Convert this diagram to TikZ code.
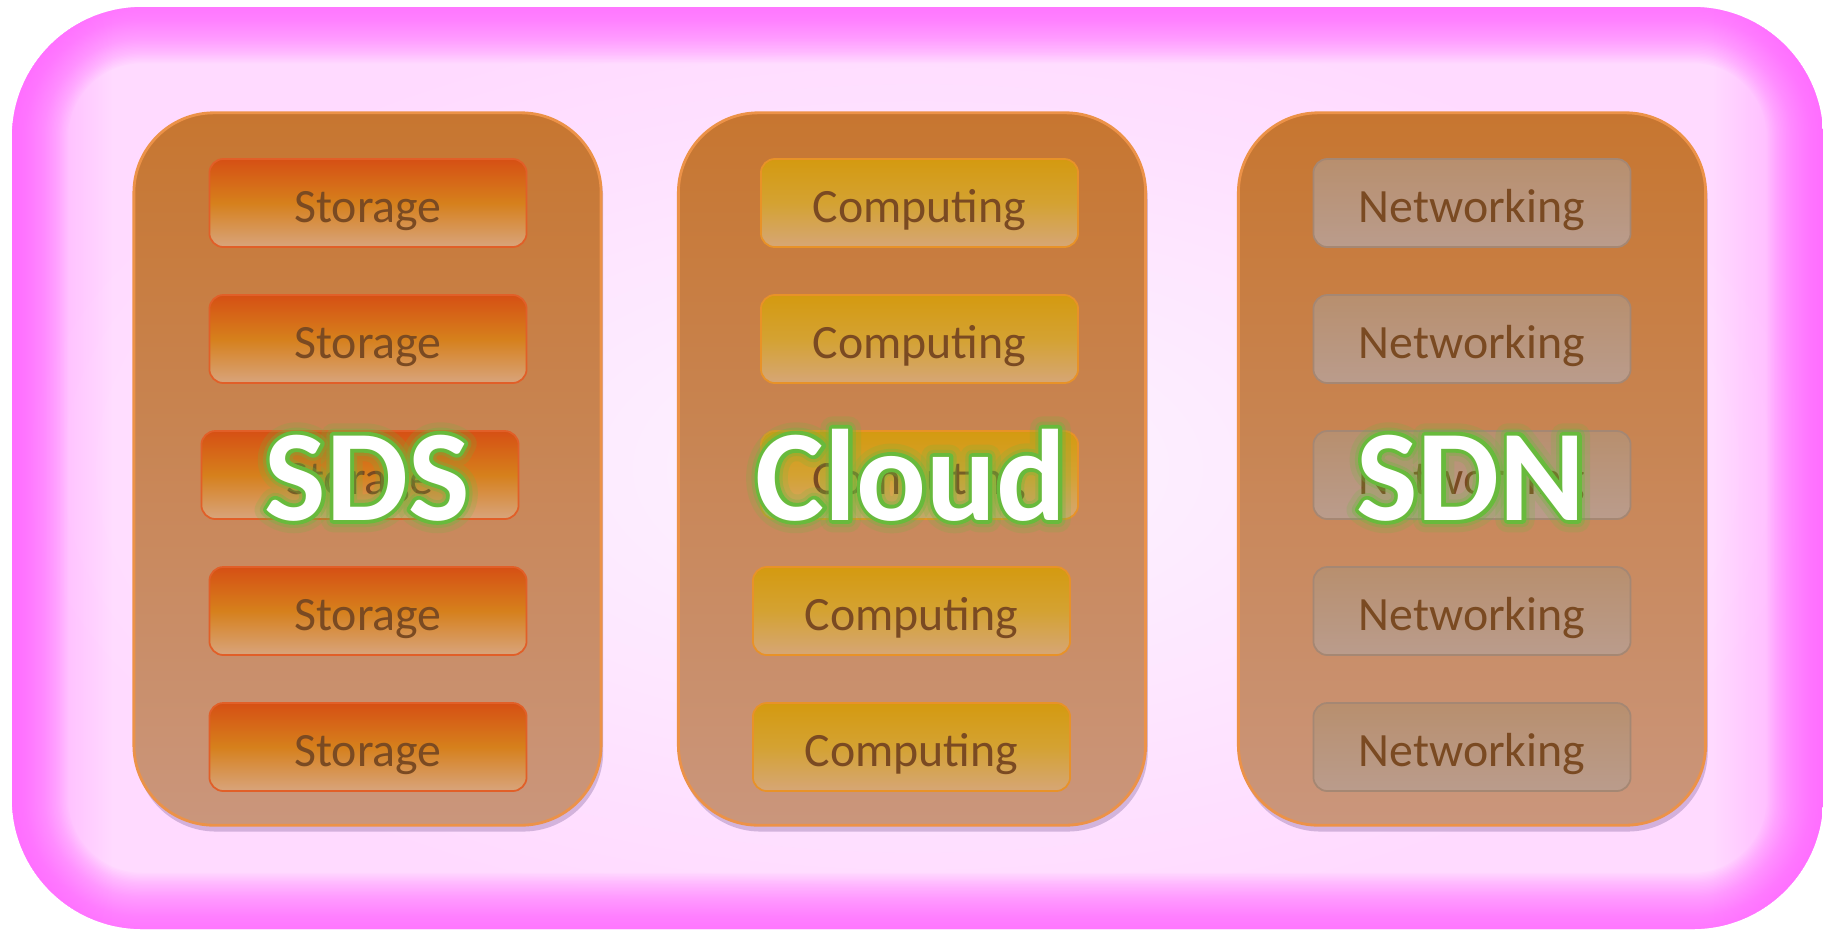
\documentclass[tikz,border=0pt]{standalone}
\usepackage{fontspec}
\setmainfont{Carlito}
\usepackage{tikz}
\usetikzlibrary{math}
\usetikzlibrary{shadows}
\usetikzlibrary{fadings}
\usetikzlibrary{positioning}

\definecolor{edgepink}{RGB}{255,100,255}
\definecolor{innerpink}{RGB}{255,218,255}
\definecolor{centrepink}{RGB}{252,245,255}
\definecolor{paneltop}{RGB}{199,118,48}
\definecolor{panelbottom}{RGB}{202,150,124}
\definecolor{paneledge}{RGB}{236,146,72}
\definecolor{shadowviolet}{RGB}{110,80,140}
\definecolor{storagetop}{RGB}{214,80,20}
\definecolor{storagemid}{RGB}{214,128,28}
\definecolor{storagebottom}{RGB}{216,164,124}
\definecolor{storageedge}{RGB}{225,95,40}
\definecolor{computetop}{RGB}{212,154,16}
\definecolor{computemid}{RGB}{212,162,50}
\definecolor{computebottom}{RGB}{214,166,118}
\definecolor{computeedge}{RGB}{232,146,40}
\definecolor{nettop}{RGB}{184,143,110}
\definecolor{netbottom}{RGB}{186,156,140}
\definecolor{netedge}{RGB}{165,135,115}
\definecolor{unittext}{RGB}{122,74,34}
\definecolor{glowgreen}{RGB}{104,186,60}

\tikzfading[name=fade right, left color=transparent!0, right color=transparent!100]
\tikzfading[name=fade left, left color=transparent!100, right color=transparent!0]

\def\bigfont{\fontsize{37}{44}\selectfont\bfseries}
\def\unitfont{\fontsize{13.6}{16}\selectfont}
% stroked text: line width in bp
\def\strokedtext#1#2{\special{pdf:literal direct 2 Tr #1 w 1 j}#2\special{pdf:literal direct 0 Tr}}

% white label with green rim and halo: name, x, y, text
\newcommand{\glowlabel}[4]{%
  \node[glowtext, opacity=0.18] (#1-halo) at (#2, #3) {\strokedtext{7}{#4}};
  \node[glowtext, opacity=0.30] (#1-glow) at (#2, #3) {\strokedtext{4}{#4}};
  \node[glowtext] (#1-rim) at (#2, #3) {\strokedtext{2.2}{#4}};
  \node[bigtext] (#1) at (#2, #3) {#4};
}

\begin{document}
\begin{tikzpicture}[x=0.01cm, y=-0.01cm,
  panel/.style={minimum width=4.67cm, minimum height=7.12cm, rounded corners=0.8cm,
    top color=paneltop, bottom color=panelbottom, draw=paneledge, line width=0.8pt,
    drop shadow={shadow xshift=0.6pt, shadow yshift=-1.8pt, opacity=0.3, fill=shadowviolet}},
  unitbox/.style={minimum width=3.17cm, minimum height=0.88cm, rounded corners=0.14cm,
    line width=0.5pt, font=\unitfont, text=unittext, text height=11pt, text depth=0pt},
  storagebox/.style={unitbox, top color=storagetop, bottom color=storagebottom,
    middle color=storagemid, draw=storageedge},
  computebox/.style={unitbox, top color=computetop, bottom color=computebottom,
    middle color=computemid, draw=computeedge},
  networkbox/.style={unitbox, top color=nettop, bottom color=netbottom, draw=netedge},
  glowtext/.style={anchor=base, font=\bigfont, text=glowgreen},
  bigtext/.style={anchor=base, font=\bigfont, text=white}]
  \tikzmath{
    \dy = 136;
    \ytop = 203;
  }

  % background
  \useasboundingbox (0,0) rectangle (1823,929);
  \shade[inner color=centrepink, outer color=innerpink, rounded corners=1.3cm]
    (12,7) rectangle (1823,929);
  \begin{scope}
    \clip[rounded corners=1.3cm] (12,7) rectangle (1823,929);
    \foreach \k in {1, ..., 40}
      \draw[edgepink, opacity=0.035, line width={\k*0.8pt}, rounded corners=1.3cm]
        (12,7) rectangle (1823,929);
    \fill[edgepink, opacity=0.45, path fading=fade right] (12,7) rectangle (112,929);
    \fill[edgepink, opacity=0.45, path fading=fade left] (1713,7) rectangle (1823,929);
  \end{scope}

  % panels
  \node[panel] (sdspanel) at (367.5, 469) {};
  \node[panel] (cloudpanel) at (912, 469) {};
  \node[panel] (sdnpanel) at (1472, 469) {};

  \foreach \i in {1, ..., 5} {
    \tikzmath{
      \yc = \ytop + (\i-1)*\dy;
      if \i == 3 then { \xs = 360; } else { \xs = 368; };
      if \i > 3 then { \xc = 911.5; } else { \xc = 919.5; };
    }
    \node[storagebox] (storage\i) at (\xs, \yc) {Storage};
    \node[computebox] (computing\i) at (\xc, \yc) {Computing};
    \node[networkbox] (networking\i) at (1472, \yc) {Networking};
  }

  % big labels
  \glowlabel{sds}{367}{520}{SDS}
  \glowlabel{cloud}{911}{520}{Cloud}
  \glowlabel{sdn}{1471}{520}{SDN}
\end{tikzpicture}
\end{document}
